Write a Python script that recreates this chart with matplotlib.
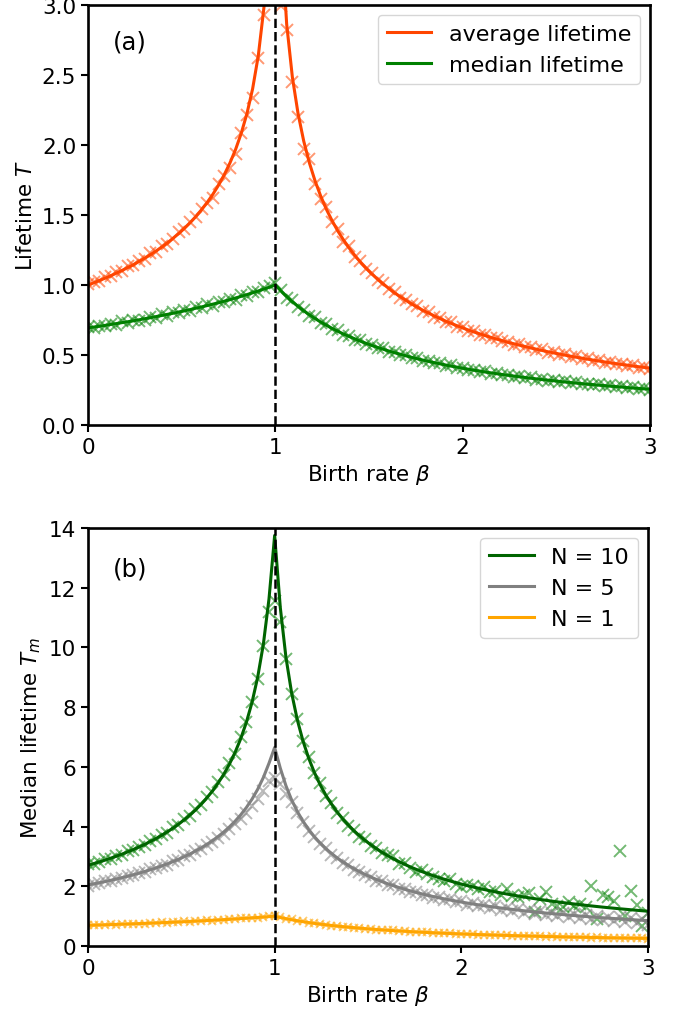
import numpy as np
import matplotlib
matplotlib.use("Agg")
import matplotlib.pyplot as plt

nan = np.nan

# birth rate grid shared by the simulations and the analytic curves
beta = np.linspace(0, 3, 100)

# ---- panel (a): analytic curves -------------------------------------------
avg_theory = [
    1.000, 1.015, 1.032, 1.048, 1.066, 1.084, 1.104, 1.124, 1.145, 1.168,
    1.191, 1.216, 1.243, 1.271, 1.301, 1.334, 1.368, 1.405, 1.445, 1.489,
    1.537, 1.590, 1.648, 1.713, 1.787, 1.871, 1.968, 2.084, 2.224, 2.401,
    2.638, 2.984, 3.606, nan, 3.526, 2.862, 2.485, 2.225, 2.028, 1.872,
    1.743, 1.634, 1.540, 1.459, 1.386, 1.322, 1.264, 1.211, 1.163, 1.119,
    1.079, 1.041, 1.007, 0.975, 0.944, 0.916, 0.890, 0.865, 0.842, 0.819,
    0.799, 0.779, 0.760, 0.742, 0.725, 0.709, 0.693, 0.678, 0.664, 0.651,
    0.638, 0.625, 0.613, 0.602, 0.590, 0.580, 0.570, 0.560, 0.550, 0.541,
    0.532, 0.523, 0.515, 0.507, 0.499, 0.491, 0.484, 0.477, 0.470, 0.463,
    0.457, 0.450, 0.444, 0.438, 0.432, 0.427, 0.421, 0.416, 0.411, 0.405,
]
median_theory = [
    0.693, 0.699, 0.705, 0.711, 0.718, 0.724, 0.731, 0.737, 0.744, 0.751,
    0.759, 0.766, 0.774, 0.782, 0.790, 0.798, 0.807, 0.815, 0.824, 0.834,
    0.843, 0.853, 0.863, 0.873, 0.884, 0.895, 0.907, 0.919, 0.931, 0.944,
    0.957, 0.971, 0.985, 1.000, 0.957, 0.917, 0.880, 0.847, 0.816, 0.787,
    0.760, 0.735, 0.712, 0.690, 0.669, 0.650, 0.632, 0.615, 0.598, 0.583,
    0.568, 0.554, 0.541, 0.528, 0.516, 0.505, 0.494, 0.483, 0.473, 0.463,
    0.454, 0.445, 0.437, 0.428, 0.420, 0.413, 0.405, 0.398, 0.391, 0.385,
    0.378, 0.372, 0.366, 0.360, 0.355, 0.349, 0.344, 0.339, 0.334, 0.329,
    0.324, 0.320, 0.316, 0.311, 0.307, 0.303, 0.299, 0.295, 0.291, 0.288,
    0.284, 0.281, 0.277, 0.274, 0.271, 0.267, 0.264, 0.261, 0.258, 0.255,
]

# ---- panel (a): simulation estimates --------------------------------------
avg_sim = [
    1.010, 1.022, 1.027, 1.059, 1.061, 1.091, 1.097, 1.133, 1.140, 1.174,
    1.186, 1.226, 1.235, 1.281, 1.294, 1.329, 1.377, 1.399, 1.453, 1.482,
    1.546, 1.584, 1.621, 1.722, 1.781, 1.832, 1.934, 2.083, 2.215, 2.336,
    2.618, 2.925, nan, nan, 2.992, 2.823, 2.452, 2.201, 1.972, 1.903,
    1.718, 1.612, 1.556, 1.447, 1.399, 1.309, 1.275, 1.203, 1.170, 1.112,
    1.088, 1.034, 1.013, 0.969, 0.953, 0.908, 0.896, 0.861, 0.848, 0.811,
    0.807, 0.772, 0.766, 0.738, 0.733, 0.702, 0.698, 0.674, 0.668, 0.646,
    0.643, 0.619, 0.621, 0.598, 0.595, 0.574, 0.578, 0.556, 0.555, 0.536,
    0.540, 0.517, 0.522, 0.502, 0.505, 0.486, 0.492, 0.471, 0.478, 0.458,
    0.463, 0.445, 0.452, 0.433, 0.437, 0.421, 0.428, 0.410, 0.417, 0.399,
]
median_sim = [
    0.701, 0.690, 0.709, 0.704, 0.722, 0.716, 0.739, 0.728, 0.750, 0.742,
    0.752, 0.772, 0.767, 0.790, 0.781, 0.806, 0.799, 0.824, 0.812, 0.841,
    0.836, 0.861, 0.852, 0.880, 0.876, 0.903, 0.896, 0.927, 0.922, 0.951,
    0.948, 0.979, 0.992, 1.012, 0.962, 0.906, 0.889, 0.839, 0.822, 0.779,
    0.768, 0.727, 0.719, 0.683, 0.676, 0.643, 0.638, 0.608, 0.604, 0.577,
    0.574, 0.548, 0.547, 0.522, 0.521, 0.499, 0.499, 0.477, 0.478, 0.457,
    0.459, 0.439, 0.442, 0.422, 0.425, 0.407, 0.410, 0.392, 0.396, 0.379,
    0.383, 0.366, 0.371, 0.354, 0.360, 0.343, 0.349, 0.333, 0.344, 0.323,
    0.329, 0.314, 0.321, 0.305, 0.312, 0.297, 0.304, 0.289, 0.296, 0.282,
    0.289, 0.275, 0.282, 0.268, 0.279, 0.261, 0.269, 0.255, 0.263, 0.249,
]

# ---- panel (b): analytic curves for N initial individuals -------------------
n10_theory = [
    2.704, 2.758, 2.816, 2.876, 2.940, 3.007, 3.077, 3.152, 3.230, 3.314,
    3.402, 3.497, 3.597, 3.705, 3.820, 3.945, 4.079, 4.225, 4.383, 4.557,
    4.747, 4.958, 5.192, 5.455, 5.751, 6.091, 6.483, 6.942, 7.491, 8.160,
    9.001, 10.101, 11.623, 13.75, 11.334, 9.663, 8.477, 7.580, 6.873, 6.299,
    5.822, 5.418, 5.070, 4.767, 4.501, 4.265, 4.054, 3.863, 3.691, 3.535,
    3.391, 3.260, 3.138, 3.026, 2.922, 2.824, 2.734, 2.649, 2.570, 2.495,
    2.425, 2.358, 2.295, 2.236, 2.180, 2.126, 2.075, 2.027, 1.981, 1.937,
    1.894, 1.854, 1.815, 1.779, 1.743, 1.709, 1.676, 1.645, 1.614, 1.585,
    1.557, 1.530, 1.504, 1.478, 1.454, 1.430, 1.407, 1.385, 1.364, 1.343,
    1.323, 1.303, 1.284, 1.266, 1.248, 1.231, 1.214, 1.197, 1.181, 1.166,
]
n5_theory = [
    2.044, 2.081, 2.119, 2.158, 2.200, 2.243, 2.288, 2.336, 2.386, 2.438,
    2.494, 2.553, 2.615, 2.680, 2.750, 2.825, 2.904, 2.989, 3.081, 3.179,
    3.286, 3.402, 3.528, 3.667, 3.820, 3.989, 4.179, 4.393, 4.637, 4.918,
    5.248, 5.641, 6.121, 6.65, 5.956, 5.366, 4.895, 4.508, 4.184, 3.907,
    3.667, 3.458, 3.272, 3.107, 2.959, 2.825, 2.703, 2.592, 2.490, 2.396,
    2.310, 2.229, 2.155, 2.085, 2.020, 1.958, 1.901, 1.847, 1.796, 1.748,
    1.702, 1.659, 1.618, 1.579, 1.542, 1.507, 1.473, 1.441, 1.410, 1.381,
    1.352, 1.325, 1.299, 1.274, 1.250, 1.227, 1.205, 1.183, 1.162, 1.142,
    1.123, 1.104, 1.086, 1.069, 1.052, 1.036, 1.020, 1.004, 0.990, 0.975,
    0.961, 0.947, 0.934, 0.921, 0.909, 0.897, 0.885, 0.873, 0.862, 0.851,
]

# ---- panel (b): simulation estimates ---------------------------------------
n10_sim = [
    2.74, 2.76, 2.80, 2.90, 2.93, 3.02, 3.06, 3.17, 3.21, 3.33,
    3.39, 3.52, 3.58, 3.72, 3.80, 3.97, 4.06, 4.25, 4.36, 4.59,
    4.72, 4.99, 5.16, 5.49, 5.72, 6.12, 6.44, 6.99, 7.49, 8.16,
    8.95, 10.05, 11.19, 11.55, 10.85, 9.61, 8.44, 7.60, 6.86, 6.33,
    5.78, 5.45, 5.03, 4.80, 4.46, 4.30, 4.01, 3.90, 3.65, 3.57,
    3.35, 3.29, 3.10, 3.06, 3.02, 2.75, 2.78, 2.62, 2.47, 2.53,
    2.41, 2.31, 2.24, 2.19, 2.24, 2.09, 1.97, 2.06, 2.02, 1.90,
    1.97, 1.80, 1.83, 1.72, 1.91, 1.66, 1.63, 1.70, 1.78, 1.13,
    1.57, 1.80, 1.41, 1.35, 1.30, 1.46, 1.35, 1.41, 1.30, 2.02,
    0.90, 1.71, 1.63, 1.52, 3.19, 1.01, 1.85, 1.37, 0.68, 1.10,
]
n5_sim = [
    2.02, 2.09, 2.11, 2.17, 2.19, 2.26, 2.27, 2.35, 2.37, 2.45,
    2.48, 2.57, 2.60, 2.69, 2.73, 2.84, 2.88, 3.00, 3.05, 3.17,
    3.26, 3.38, 3.49, 3.62, 3.76, 3.91, 4.08, 4.27, 4.45, 4.68,
    4.92, 5.20, 5.54, 5.62, 5.43, 5.09, 4.81, 4.45, 4.15, 3.86,
    3.64, 3.41, 3.27, 3.05, 2.96, 2.79, 2.71, 2.55, 2.49, 2.37,
    2.31, 2.19, 2.17, 2.04, 2.03, 1.92, 1.91, 1.80, 1.81, 1.70,
    1.72, 1.61, 1.64, 1.53, 1.56, 1.46, 1.50, 1.39, 1.45, 1.33,
    1.38, 1.27, 1.33, 1.21, 1.29, 1.16, 1.24, 1.12, 1.20, 1.08,
    1.16, 1.03, 1.12, 0.99, 1.09, 0.96, 1.07, 0.93, 1.04, 0.90,
    1.01, 0.87, 0.98, 0.84, 0.96, 0.80, 0.93, 0.78, 0.91, 0.71,
]

x_ticks = [0, 1, 2, 3]
x_ticklabels = ["0", "1", "2", "3"]
top_yticks = [0.0, 0.5, 1.0, 1.5, 2.0, 2.5, 3.0]
bottom_yticks = [0, 2, 4, 6, 8, 10, 12, 14]

FS = 15.5
plt.rcParams.update({
    "font.family": "DejaVu Sans",
    "font.size": FS,
    "mathtext.fontset": "dejavusans",
    "axes.linewidth": 1.9,
})

fig = plt.figure(figsize=(6.81, 10.12), dpi=100)
ax1 = fig.add_axes([0.1292, 0.5791, 0.8253, 0.4150])
ax2 = fig.add_axes([0.1292, 0.0642, 0.8223, 0.4131])

mk = dict(linestyle="none", marker="x", alpha=0.55)
lw = 2.2

# panel (a)
ax1.plot(beta, avg_sim, color="orangered", ms=8, mew=1.4, **mk)
ax1.plot(beta, median_sim, color="green", ms=8, mew=1.4, **mk)
ax1.plot(beta, avg_theory, color="orangered", lw=lw, label="average lifetime")
ax1.plot(beta, median_theory, color="green", lw=lw, label="median lifetime")
ax1.axvline(1, color="black", ls="--", lw=1.8)
ax1.set_xlim(0, 3)
ax1.set_ylim(0, 3)
ax1.set_xticks(x_ticks)
ax1.set_xticklabels(x_ticklabels)
ax1.set_yticks(top_yticks)
ax1.set_xlabel(r"Birth rate $\beta$", fontsize=FS)
ax1.set_ylabel(r"Lifetime $T$", fontsize=FS)
ax1.text(0.045, 0.912, "(a)", transform=ax1.transAxes, fontsize=FS + 2,
         ha="left", va="center")
ax1.legend(loc="upper right", fontsize=FS + 0.5, handlelength=2.0,
           borderaxespad=0.45)

# panel (b)
ax2.plot(beta, n10_sim, color="green", ms=8, mew=1.4, **mk)
ax2.plot(beta, n5_sim, color="grey", ms=8, mew=1.4, **mk)
ax2.plot(beta, median_sim, color="orange", ms=5.5, mew=1.3, **mk)
ax2.plot(beta, n10_theory, color="darkgreen", lw=lw, label="N = 10")
ax2.plot(beta, n5_theory, color="grey", lw=lw, label="N = 5")
ax2.plot(beta, median_theory, color="orange", lw=lw, label="N = 1")
ax2.axvline(1, color="black", ls="--", lw=1.8)
ax2.set_xlim(0, 3)
ax2.set_ylim(0, 14)
ax2.set_xticks(x_ticks)
ax2.set_xticklabels(x_ticklabels)
ax2.set_yticks(bottom_yticks)
ax2.set_xlabel(r"Birth rate $\beta$", fontsize=FS)
ax2.set_ylabel(r"Median lifetime $T_m$", fontsize=FS)
ax2.text(0.045, 0.902, "(b)", transform=ax2.transAxes, fontsize=FS + 2,
         ha="left", va="center")
ax2.legend(loc="upper right", fontsize=FS + 0.5, handlelength=2.0,
           borderaxespad=0.45)

for ax in (ax1, ax2):
    ax.tick_params(labelsize=FS, length=5, width=1.5)

fig.savefig("out.png", dpi=100)
